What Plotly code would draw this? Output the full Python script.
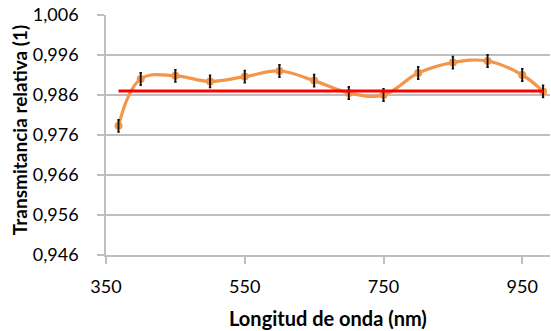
import plotly.graph_objects as go

# Relative transmittance measured across wavelength
wavelength_nm = [368, 400, 450, 500, 550, 600, 650, 700, 750, 800, 850, 900, 950, 980]
transmittance = [0.9783, 0.9900, 0.9908, 0.9894, 0.9906, 0.9920, 0.9896,
                 0.9865, 0.9860, 0.9915, 0.9941, 0.9945, 0.9910, 0.9869]
uncertainty = [0.0015] * len(wavelength_nm)

# Mean reference level
mean_level = 0.9870
mean_x = [368, 980]

y_ticks = [0.946, 0.956, 0.966, 0.976, 0.986, 0.996, 1.006]
x_ticks = [350, 550, 750, 950]

font_family = "Lato, 'Open Sans', sans-serif"
grid_col = "#bfbfbf"

fig = go.Figure()

fig.add_trace(go.Scatter(
    x=wavelength_nm, y=transmittance,
    mode="lines+markers",
    line=dict(color="#F39649", width=3.2, shape="spline", smoothing=1.1),
    marker=dict(color="#F39649", size=8),
    showlegend=False,
))

# Error bars drawn on top of the markers
fig.add_trace(go.Scatter(
    x=wavelength_nm, y=transmittance,
    mode="markers",
    marker=dict(color="rgba(0,0,0,0)", size=1),
    error_y=dict(type="data", array=uncertainty, color="#111111",
                 thickness=1.8, width=1.2),
    showlegend=False,
))

fig.add_trace(go.Scatter(
    x=mean_x, y=[mean_level, mean_level],
    mode="lines",
    line=dict(color="#FF0000", width=3),
    showlegend=False,
))

fig.update_layout(
    width=551, height=331,
    margin=dict(l=106, r=1, t=15, b=76),
    paper_bgcolor="white",
    plot_bgcolor="white",
    separators=",.",
    font=dict(family=font_family, size=18, color="#000000"),
    xaxis=dict(
        range=[350, 990],
        tickvals=x_ticks,
        ticktext=[str(v) for v in x_ticks],
        showgrid=False,
        zeroline=False,
        showline=True, linecolor=grid_col, linewidth=1.5,
        ticks="outside", ticklen=7, tickcolor=grid_col, tickwidth=1.5,
        ticklabelstandoff=8,
        tickfont=dict(family=font_family, size=18),
    ),
    yaxis=dict(
        range=[0.946, 1.006],
        tickvals=y_ticks,
        tickformat=".3f",
        showgrid=True, gridcolor=grid_col, gridwidth=1.5,
        zeroline=False,
        showline=True, linecolor=grid_col, linewidth=1.5,
        ticks="outside", ticklen=7, tickcolor=grid_col, tickwidth=1.5,
        ticklabelstandoff=15,
        tickfont=dict(family=font_family, size=18),
    ),
    annotations=[
        dict(text="<b>Longitud de onda (nm)</b>", xref="paper", yref="paper",
             x=0.5, y=-0.2625, xanchor="center", yanchor="middle",
             showarrow=False, font=dict(family=font_family, size=20)),
        dict(text="<b>Transmitancia relativa (1)</b>", xref="paper", yref="paper",
             x=-0.196, y=0.52, xanchor="center", yanchor="middle", textangle=-90,
             showarrow=False, font=dict(family=font_family, size=19)),
    ],
)

fig.write_html("out.html")
